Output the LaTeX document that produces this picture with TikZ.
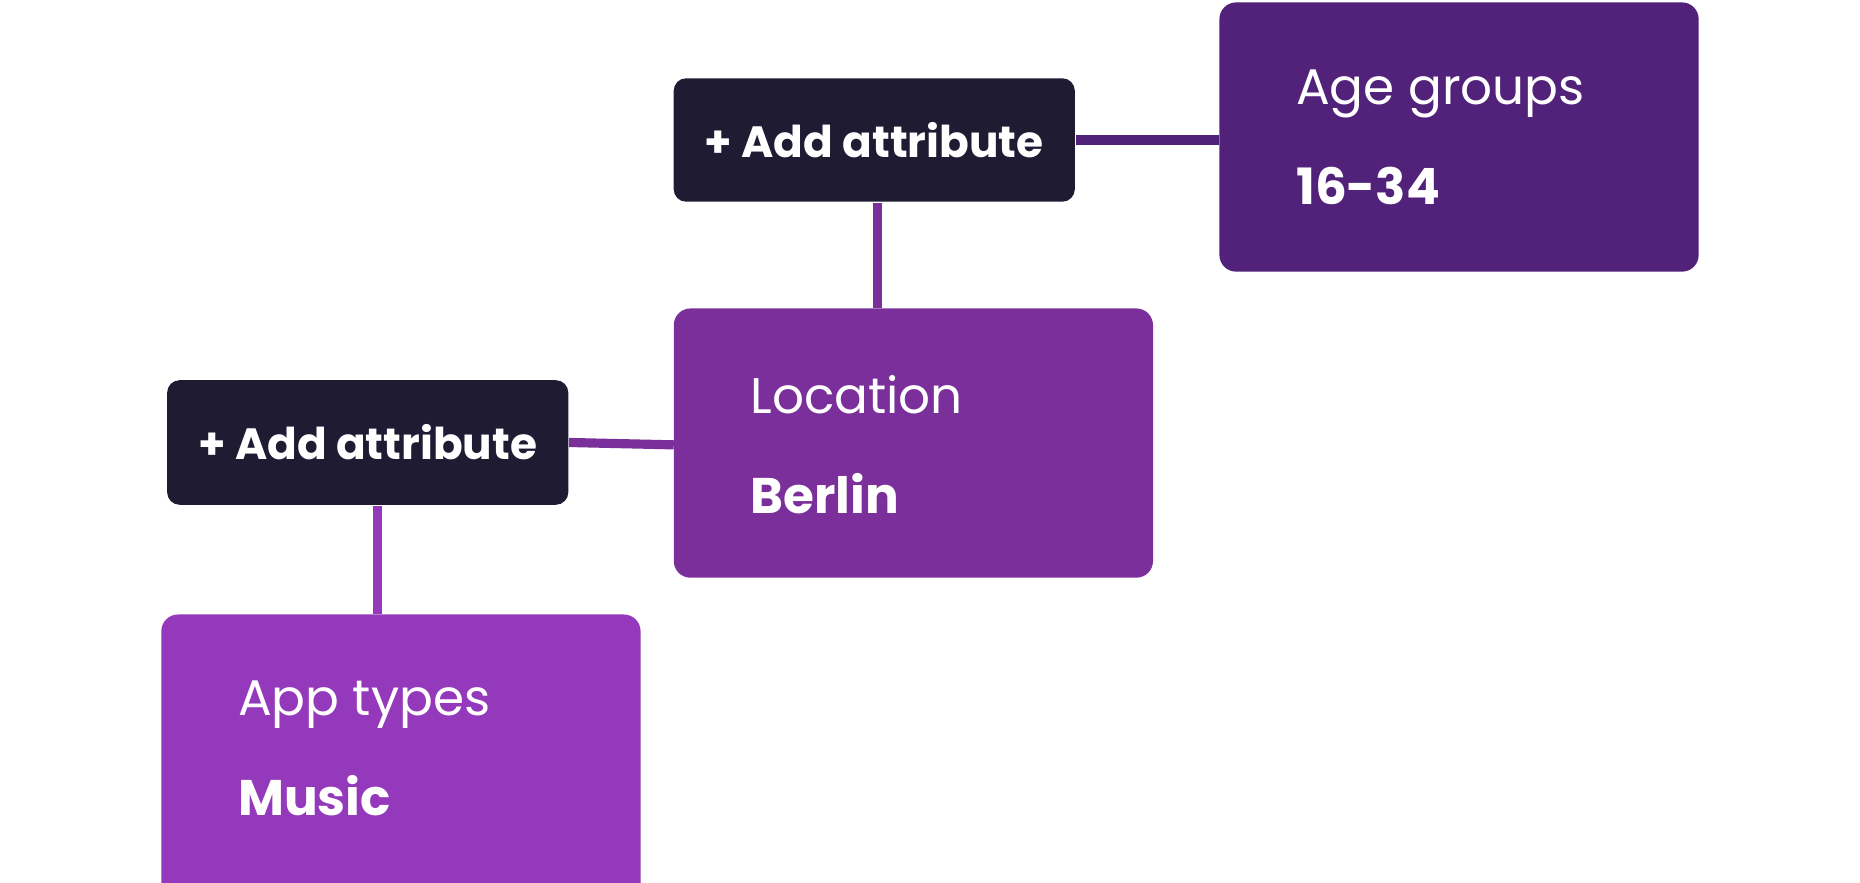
\documentclass[tikz,border=0pt]{standalone}
\usepackage{fontspec}
\setmainfont{Poppins}
\definecolor{agepurple}{HTML}{52217A}
\definecolor{locpurple}{HTML}{7A2F9A}
\definecolor{apppurple}{HTML}{9539BC}
\definecolor{darkbtn}{HTML}{1F1B33}
\begin{document}
\begin{tikzpicture}[x=0.01cm,y=-0.01cm,
    attrbox/.style={rounded corners=4pt, text=white, anchor=north west,
      inner sep=0pt, align=left, font=\fontsize{12}{24}\selectfont},
    addbtn/.style={rounded corners=3pt, fill=darkbtn, text=white,
      inner sep=0pt, font=\fontsize{10.5}{12}\selectfont\bfseries},
    link/.style={line width=2.2pt},
  ]
  \useasboundingbox (0,0) rectangle (1568,744);
  % boxes
  \fill[agepurple, rounded corners=4pt] (1028,2) rectangle (1432,229);
  \fill[locpurple, rounded corners=4pt] (568,260) rectangle (972,487);
  \fill[apppurple, rounded corners=4pt] (136,518) rectangle (540,760);
  \node[attrbox] (age) at (1092,58) {Age groups\\\textbf{16-34}};
  \node[attrbox] (loc) at (632,316) {Location\\\textbf{Berlin}};
  \node[attrbox] (app) at (200,573) {App types\\\textbf{Music}};
  \coordinate (ageL) at (1028,118);
  \coordinate (locT) at (740,260);
  \coordinate (locL) at (568,375);
  \coordinate (appT) at (318,518);
  % buttons
  \node[addbtn, minimum width=3.38cm, minimum height=1.04cm] (addtop) at (737,118) {+ Add attribute};
  \node[addbtn, minimum width=3.38cm, minimum height=1.05cm] (addleft) at (310,373) {+ Add attribute};
  % links
  \draw[link, agepurple] (addtop.east |- ageL) -- (ageL);
  \draw[link, locpurple] (addtop.south -| locT) -- (locT);
  \draw[link, locpurple] (addleft.east) -- (locL);
  \draw[link, apppurple] (addleft.south -| appT) -- (appT);
\end{tikzpicture}
\end{document}
